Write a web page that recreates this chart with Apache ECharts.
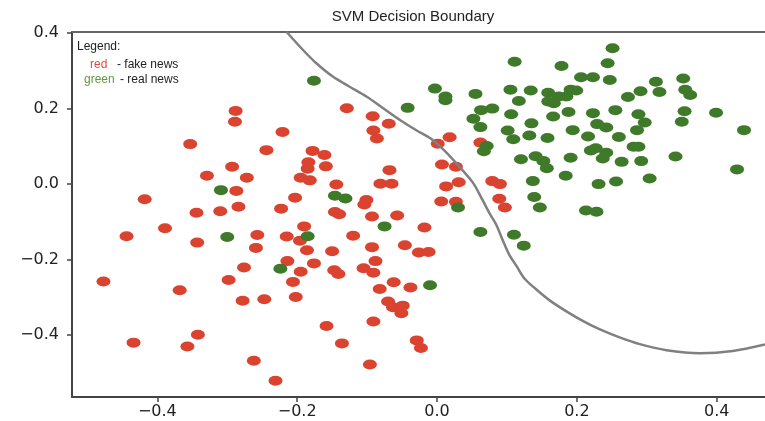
<!DOCTYPE html>
<html lang="en">
  <head>
    <meta charset="UTF-8" />
    <script
      type="text/javascript"
      src="https://cdn.jsdelivr.net/npm/echarts@6/dist/echarts.min.js"
    ></script>
    <style>
      html,
      body {
        margin: 0;
        overflow: hidden;
        background: #fff;
      }
      #viewport {
        position: absolute;
        left: 0px;
        top: 0px;
        width: 765px;
        height: 421px;
      }
    </style>
  </head>
  <body>
    <div id="viewport"></div>
    <script>
      // fake news points [x, y]
      var redPoints = [
        [-0.288, 0.194], [-0.289, 0.165], [-0.353, 0.106], [-0.293, 0.046],
        [-0.329, 0.022], [-0.272, 0.017], [-0.287, -0.018], [-0.418, -0.040],
        [-0.284, -0.060], [-0.344, -0.076], [-0.310, -0.072], [-0.389, -0.117],
        [-0.444, -0.138], [-0.343, -0.155], [-0.257, -0.135], [-0.259, -0.169],
        [-0.276, -0.221], [-0.298, -0.254], [-0.477, -0.258], [-0.368, -0.281],
        [-0.278, -0.309], [-0.342, -0.399], [-0.434, -0.420], [-0.357, -0.430],
        [-0.262, -0.468], [-0.231, -0.521], [-0.247, -0.305], [-0.202, -0.299],
        [-0.206, -0.259], [-0.214, -0.204], [-0.176, -0.210], [-0.195, -0.232],
        [-0.215, -0.139], [-0.196, -0.150], [-0.190, -0.112], [-0.186, -0.175],
        [-0.150, -0.178], [-0.120, -0.137], [-0.147, -0.228], [-0.141, -0.238],
        [-0.105, -0.223], [-0.091, -0.235], [-0.088, -0.204], [-0.093, -0.167],
        [-0.082, -0.278], [-0.062, -0.260], [-0.038, -0.274], [-0.070, -0.311],
        [-0.063, -0.326], [-0.049, -0.322], [-0.051, -0.342], [-0.158, -0.376],
        [-0.091, -0.364], [-0.136, -0.422], [-0.029, -0.414], [-0.023, -0.434],
        [-0.096, -0.478], [-0.046, -0.162], [-0.026, -0.181], [-0.012, -0.180],
        [-0.018, -0.115], [-0.057, -0.083], [-0.093, -0.086], [-0.146, -0.074],
        [-0.140, -0.080], [-0.104, -0.054], [-0.101, -0.042], [-0.223, -0.065],
        [-0.203, -0.036], [-0.144, -0.001], [-0.195, 0.017], [-0.182, 0.010],
        [-0.184, 0.058], [-0.185, 0.041], [-0.159, 0.047], [-0.178, 0.088],
        [-0.161, 0.077], [-0.244, 0.090], [-0.221, 0.138], [-0.129, 0.201],
        [-0.092, 0.180], [-0.069, 0.160], [-0.091, 0.142], [-0.086, 0.121],
        [-0.068, 0.037], [-0.081, 0.001], [-0.065, 0.001], [0.018, 0.124],
        [0.001, 0.107], [0.062, 0.110], [0.007, 0.052], [0.027, 0.046],
        [0.013, -0.006], [0.031, 0.005], [0.079, 0.008], [0.090, 0.000],
        [0.006, -0.046], [0.027, -0.047], [0.089, -0.039], [0.097, -0.062]
      ];

      // real news points [x, y]
      var greenPoints = [
        [-0.176, 0.274], [-0.042, 0.202], [-0.003, 0.253], [0.012, 0.232],
        [0.012, 0.222], [0.055, 0.239], [0.105, 0.250], [0.134, 0.248],
        [0.111, 0.324], [0.178, 0.313], [0.206, 0.283], [0.223, 0.283],
        [0.251, 0.360], [0.244, 0.320], [0.247, 0.276], [0.313, 0.271],
        [0.352, 0.280], [0.159, 0.242], [0.117, 0.220], [0.159, 0.219],
        [0.167, 0.214], [0.174, 0.232], [0.185, 0.232], [0.191, 0.250],
        [0.199, 0.248], [0.273, 0.231], [0.291, 0.246], [0.318, 0.244],
        [0.355, 0.250], [0.362, 0.236], [0.063, 0.196], [0.079, 0.200],
        [0.052, 0.173], [0.062, 0.151], [0.106, 0.185], [0.135, 0.161],
        [0.166, 0.179], [0.188, 0.191], [0.223, 0.188], [0.255, 0.196],
        [0.288, 0.185], [0.297, 0.163], [0.354, 0.193], [0.350, 0.165],
        [0.399, 0.189], [0.439, 0.143], [0.101, 0.142], [0.109, 0.119],
        [0.132, 0.129], [0.158, 0.122], [0.194, 0.143], [0.216, 0.126],
        [0.229, 0.159], [0.242, 0.150], [0.260, 0.125], [0.286, 0.143],
        [0.281, 0.099], [0.288, 0.099], [0.220, 0.089], [0.227, 0.095],
        [0.242, 0.083], [0.237, 0.068], [0.264, 0.059], [0.292, 0.061],
        [0.341, 0.073], [0.429, 0.039], [0.304, 0.015], [0.256, 0.007],
        [0.231, 0.000], [0.184, 0.022], [0.191, 0.070], [0.120, 0.066],
        [0.141, 0.074], [0.152, 0.061], [0.157, 0.042], [0.071, 0.101],
        [0.067, 0.087], [0.137, 0.008], [0.139, -0.034], [0.147, -0.062],
        [0.030, -0.062], [0.213, -0.070], [0.228, -0.073], [0.062, -0.127],
        [0.110, -0.134], [0.124, -0.163], [-0.010, -0.268], [-0.075, -0.112],
        [-0.185, -0.138], [-0.224, -0.224], [-0.300, -0.140], [-0.309, -0.016],
        [-0.146, -0.031], [-0.131, -0.038]
      ];

      // decision boundary
      var boundaryCurve = [
        [-0.215, 0.403], [-0.192, 0.356], [-0.173, 0.321], [-0.149, 0.285],
        [-0.125, 0.258], [-0.101, 0.232], [-0.077, 0.201], [-0.053, 0.170],
        [-0.029, 0.142], [-0.010, 0.122], [0.011, 0.088], [0.032, 0.046],
        [0.052, 0.002], [0.065, -0.042], [0.075, -0.077], [0.085, -0.109],
        [0.094, -0.149], [0.103, -0.186], [0.114, -0.218], [0.125, -0.250],
        [0.140, -0.276], [0.161, -0.308], [0.185, -0.337], [0.211, -0.365],
        [0.233, -0.385], [0.261, -0.406], [0.290, -0.424], [0.328, -0.440],
        [0.376, -0.448], [0.423, -0.442], [0.469, -0.425]
      ];

      var xTicks = [-0.4, -0.2, 0.0, 0.2, 0.4];
      var yTicks = [-0.4, -0.2, 0.0, 0.2, 0.4];

      var fmt = function (v) {
        return v.toFixed(1).replace('-', '\u2212');
      };

      var myChart = echarts.init(document.getElementById('viewport'));

      var option = {
        animation: false,
        backgroundColor: '#fff',
        grid: { left: 72, right: 0, top: 32, bottom: 24 },
        xAxis: [
          {
            type: 'value',
            min: -0.522,
            max: 0.469,
            axisLine: { onZero: false, lineStyle: { color: '#444', width: 2 } },
            axisTick: {
              customValues: xTicks,
              length: 5,
              lineStyle: { color: '#444', width: 1.5 }
            },
            axisLabel: {
              customValues: xTicks,
              formatter: fmt,
              margin: 7,
              color: '#222',
              fontFamily: 'DejaVu Sans',
              fontSize: 16
            },
            splitLine: { show: false }
          },
          {
            type: 'value',
            position: 'top',
            min: -0.522,
            max: 0.469,
            axisLine: {
              show: true,
              onZero: false,
              lineStyle: { color: '#666', width: 2 }
            },
            axisTick: { show: false },
            axisLabel: { show: false },
            splitLine: { show: false }
          }
        ],
        yAxis: {
          type: 'value',
          min: -0.564,
          max: 0.403,
          axisLine: {
            show: true,
            onZero: false,
            lineStyle: { color: '#444', width: 2 }
          },
          axisTick: {
            show: true,
            customValues: yTicks,
            length: 5,
            lineStyle: { color: '#444', width: 1.5 }
          },
          axisLabel: {
            customValues: yTicks,
            formatter: fmt,
            margin: 13,
            color: '#222',
            fontFamily: 'DejaVu Sans',
            fontSize: 16
          },
          splitLine: { show: false }
        },
        graphic: [
          {
            type: 'text',
            x: 413,
            y: 9,
            style: {
              text: 'SVM Decision Boundary',
              fill: '#222',
              font: '15px "Liberation Sans", Arial, sans-serif',
              textAlign: 'center'
            }
          },
          {
            type: 'text',
            x: 77,
            y: 41,
            style: {
              text: 'Legend:',
              fill: '#222',
              font: '12px "Liberation Sans", Arial, sans-serif'
            }
          },
          {
            type: 'text',
            x: 90,
            y: 59,
            style: {
              text: 'red',
              fill: '#e5483a',
              font: '12px "Liberation Sans", Arial, sans-serif'
            }
          },
          {
            type: 'text',
            x: 117,
            y: 59,
            style: {
              text: '- fake news',
              fill: '#222',
              font: '12px "Liberation Sans", Arial, sans-serif'
            }
          },
          {
            type: 'text',
            x: 84,
            y: 74,
            style: {
              text: 'green',
              fill: '#5f9a3c',
              font: '12px "Liberation Sans", Arial, sans-serif'
            }
          },
          {
            type: 'text',
            x: 120,
            y: 74,
            style: {
              text: '- real news',
              fill: '#222',
              font: '12px "Liberation Sans", Arial, sans-serif'
            }
          }
        ],
        series: [
          {
            type: 'scatter',
            data: redPoints,
            symbol: 'circle',
            symbolSize: [14, 10],
            itemStyle: { color: '#d9432f', opacity: 1 }
          },
          {
            type: 'scatter',
            data: greenPoints,
            symbol: 'circle',
            symbolSize: [14, 10],
            itemStyle: { color: '#3f7a2a', opacity: 1 }
          },
          {
            type: 'line',
            data: boundaryCurve,
            showSymbol: false,
            smooth: 0.3,
            clip: true,
            z: 5,
            lineStyle: { color: '#808080', width: 2.5 }
          }
        ]
      };

      myChart.setOption(option);
    </script>
  </body>
</html>
